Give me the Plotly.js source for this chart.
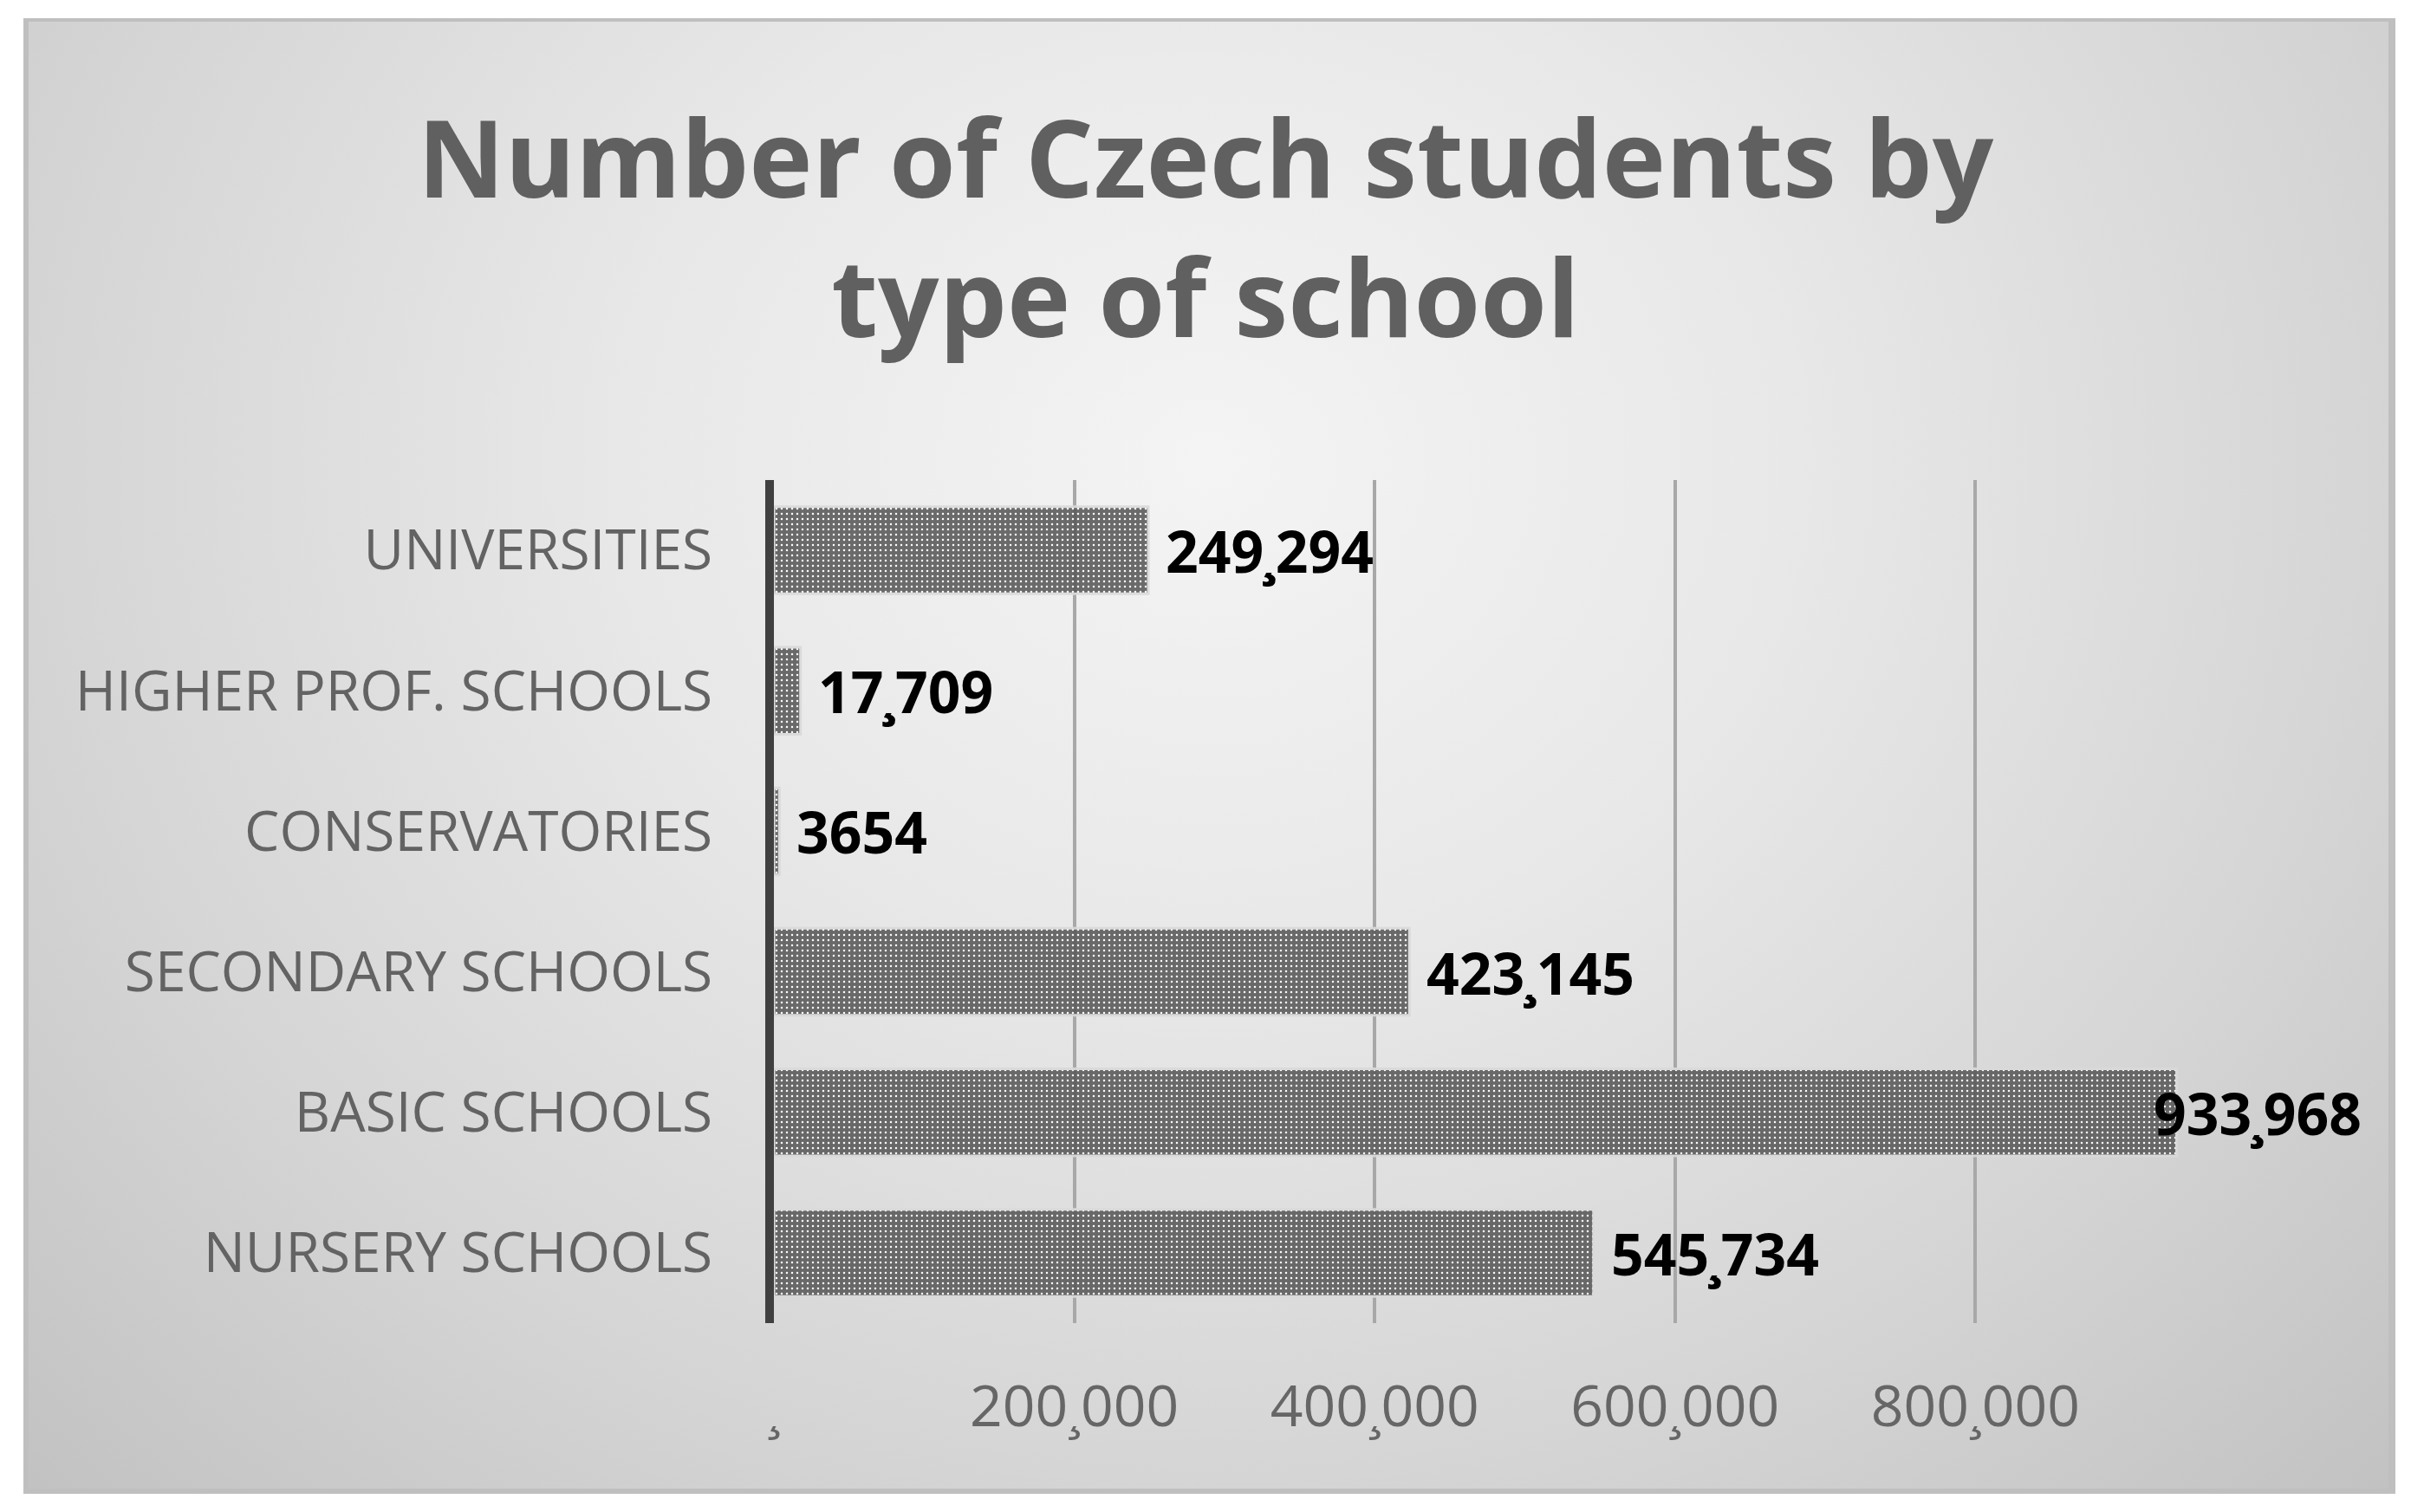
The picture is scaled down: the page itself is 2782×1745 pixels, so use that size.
<!DOCTYPE html>
<html>
<head>
<meta charset="utf-8">
<script src="https://cdn.plot.ly/plotly-3.0.1.min.js"></script>
<style>
  html, body { margin: 0; padding: 0; background: #ffffff; width: 2782px; height: 1745px; overflow: hidden; }
  #frame {
    position: absolute; left: 27px; top: 21px; width: 2723px; height: 1693px;
    border-top: 4px solid #bfbfbf; border-left: 6px solid #bfbfbf;
    border-right: 8px solid #bfbfbf; border-bottom: 6px solid #bfbfbf;
    background: radial-gradient(ellipse farthest-corner at 50% 30%, #f4f4f4 0%, #e8e8e8 35%, #d5d5d5 70%, #c2c2c2 100%);
  }
  #chart { position: absolute; left: 0; top: 0; width: 2782px; height: 1745px; }
</style>
</head>
<body>
<div id="frame"></div>
<div id="chart"></div>
<script>
// ---- data (top-to-bottom display order) ----
const categories = ["UNIVERSITIES", "HIGHER PROF. SCHOOLS", "CONSERVATORIES", "SECONDARY SCHOOLS", "BASIC SCHOOLS", "NURSERY SCHOOLS"];
const students = [249294, 17709, 3654, 423145, 933968, 545734];
const valueLabels = ["249¸294", "17¸709", "3654", "423¸145", "933¸968", "545¸734"];
const tickValues = [0, 200000, 400000, 600000, 800000];
const tickLabels = ["¸", "200¸000", "400¸000", "600¸000", "800¸000"];
const chartTitle = "Number of Czech students by<br>type of school";

const W = 2782, H = 1745;
const margin = { l: 893, r: 156, t: 554, b: 218 };
const xMax = 1000000;
const plotW = W - margin.l - margin.r;

const trace = {
  type: "bar",
  orientation: "h",
  x: students,
  y: categories,
  marker: {
    color: "#5c5c5c",
    opacity: 0.9,
    line: { color: "#dadada", width: 3 },
    pattern: { shape: ".", fgcolor: "#ffffff", bgcolor: "#5c5c5c", size: 6, solidity: 0.14, fillmode: "replace" }
  },
  hoverinfo: "none",
  cliponaxis: false
};

// data labels, positioned from the values through the x axis
const labelFont = { family: "Open Sans, sans-serif", size: 66, color: "#000000", weight: 700 };
const approxLabelW = 250;
const annotations = students.map((v, i) => {
  const px = margin.l + v / xMax * plotW + 18;
  if (px + approxLabelW > W - 50) {
    return {
      xref: "paper", yref: "y", x: (W - 55 - margin.l) / plotW, y: categories[i],
      text: valueLabels[i], showarrow: false, xanchor: "right", yanchor: "middle", font: labelFont
    };
  }
  return {
    xref: "x", yref: "y", x: v, y: categories[i], xshift: 18,
    text: valueLabels[i], showarrow: false, xanchor: "left", yanchor: "middle", font: labelFont
  };
});

const layout = {
  width: W, height: H,
  margin: margin,
  paper_bgcolor: "rgba(0,0,0,0)",
  plot_bgcolor: "rgba(0,0,0,0)",
  showlegend: false,
  bargap: 0.38,
  title: {
    text: chartTitle,
    font: { family: "Open Sans, sans-serif", size: 124, color: "#606060", weight: 700 },
    xref: "container", x: 0.5, xanchor: "center",
    yref: "container", y: 1 - 228 / H, yanchor: "top"
  },
  xaxis: {
    range: [0, xMax],
    tickmode: "array",
    tickvals: tickValues,
    ticktext: tickLabels,
    showgrid: true,
    gridcolor: "#a8a8a8",
    gridwidth: 4,
    zeroline: false,
    showline: false,
    ticks: "",
    ticklabelstandoff: 52,
    tickfont: { family: "Open Sans, sans-serif", size: 66, color: "#666666" },
    fixedrange: true
  },
  yaxis: {
    type: "category",
    autorange: "reversed",
    showgrid: false,
    zeroline: false,
    showline: true,
    linecolor: "#404040",
    linewidth: 10,
    ticks: "",
    ticklabelstandoff: 48,
    tickfont: { family: "Open Sans, sans-serif", size: 64, color: "#636363" },
    fixedrange: true
  },
  annotations: annotations
};

Plotly.newPlot("chart", [trace], layout, { displayModeBar: false, staticPlot: true });
</script>
</body>
</html>
